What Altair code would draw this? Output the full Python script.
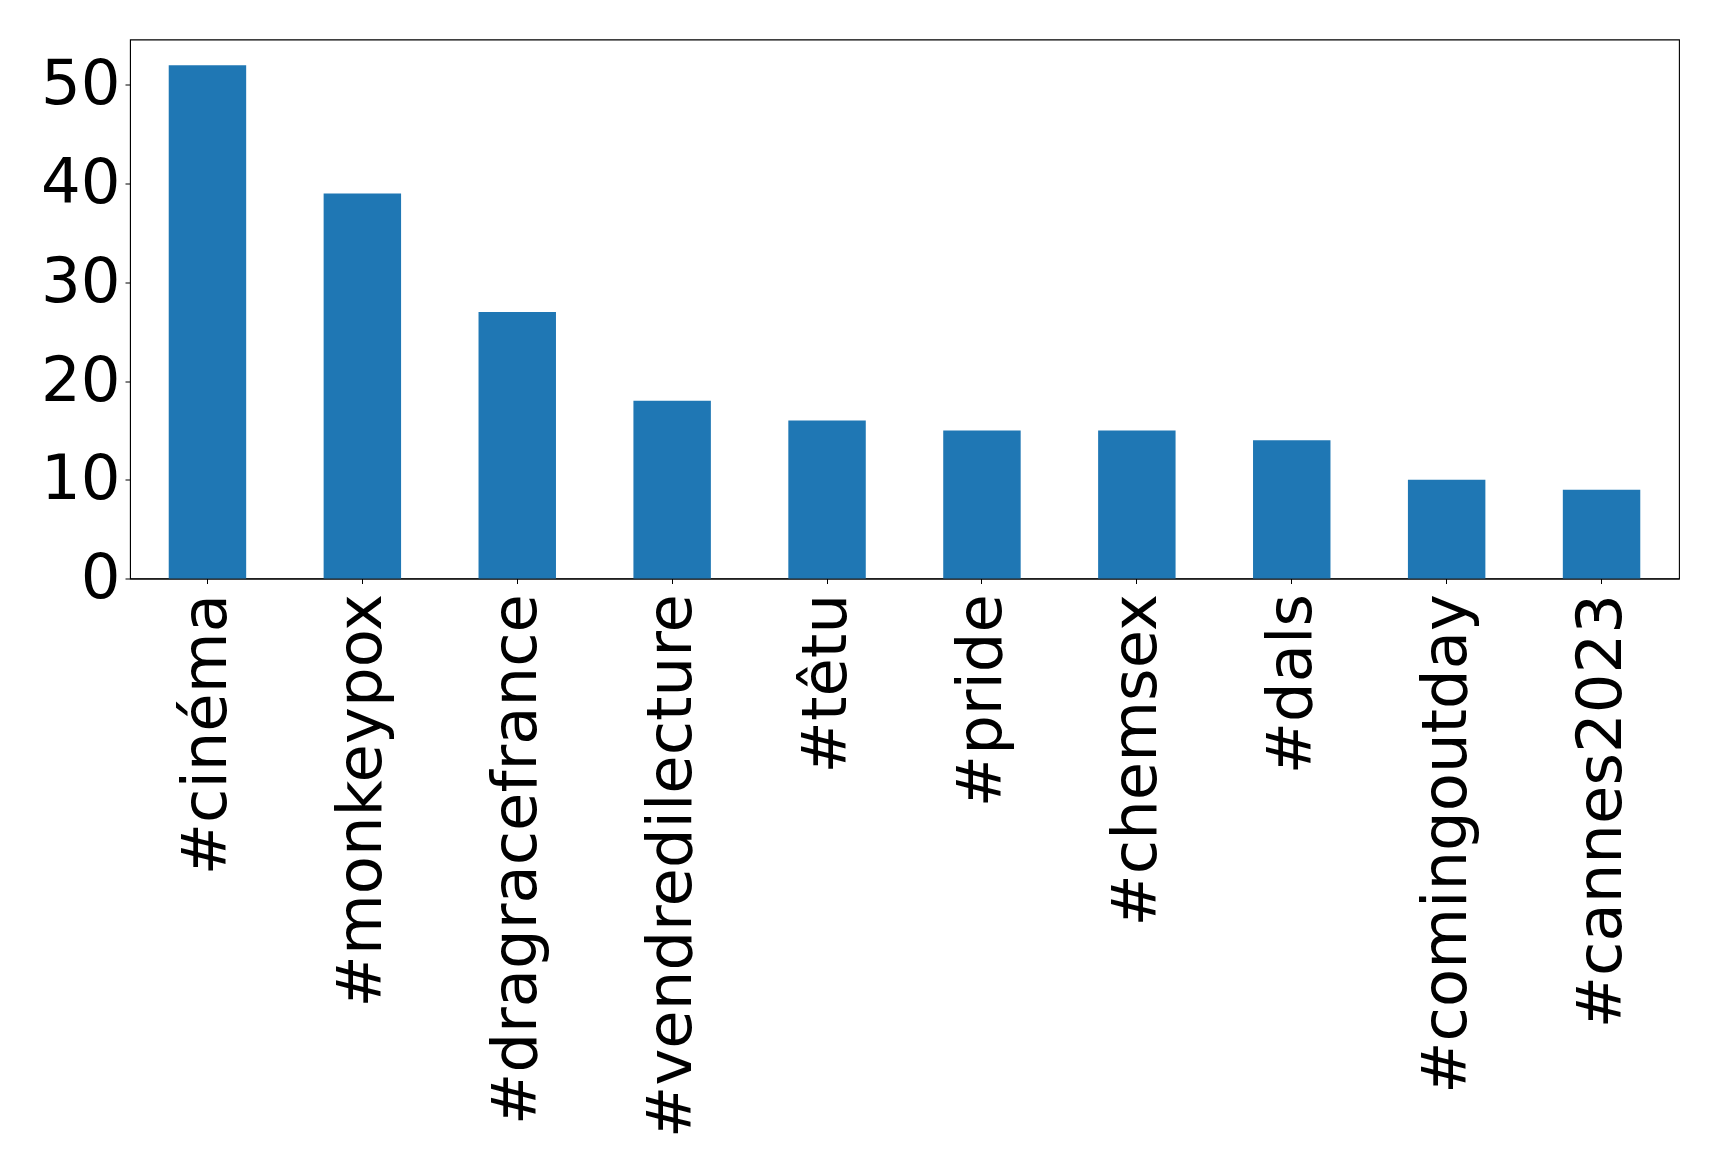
import altair as alt
import pandas as pd

tags = ["#cinéma", "#monkeypox", "#dragracefrance", "#vendredilecture", "#têtu",
        "#pride", "#chemsex", "#dals", "#comingoutday", "#cannes2023"]
counts = [52, 39, 27, 18, 16, 15, 15, 14, 10, 9]

df = pd.DataFrame({"tag": tags, "count": counts})

FONT = "DejaVu Sans"
FS = 62.5

chart = alt.Chart(df).mark_bar(color="#1f77b4").encode(
    x=alt.X("tag:N", sort=None, title=None,
            scale=alt.Scale(paddingInner=0.5, paddingOuter=0.25),
            axis=alt.Axis(labelAngle=270, labelAlign="right", labelBaseline="middle",
                          labelFont=FONT, labelFontSize=FS, labelColor="black",
                          labelPadding=10, tickSize=5, tickColor="black",
                          domainColor="black", labelLimit=0)),
    y=alt.Y("count:Q", title=None,
            scale=alt.Scale(domain=[0, 54.6], nice=False, zero=True),
            axis=alt.Axis(values=[0, 10, 20, 30, 40, 50], grid=False,
                          labelFont=FONT, labelFontSize=FS, labelColor="black",
                          labelPadding=5, tickSize=5, tickColor="black",
                          domainColor="black")),
).properties(
    width=1549, height=539,
    autosize=alt.AutoSizeParams(type="none"),
    padding={"left": 122, "top": 31.5, "right": 30, "bottom": 590},
).configure(
    background="white",
    view=alt.ViewConfig(stroke="black", strokeWidth=1.1),
)

chart.save("out.html", embed_options={"renderer": "svg", "actions": False})
